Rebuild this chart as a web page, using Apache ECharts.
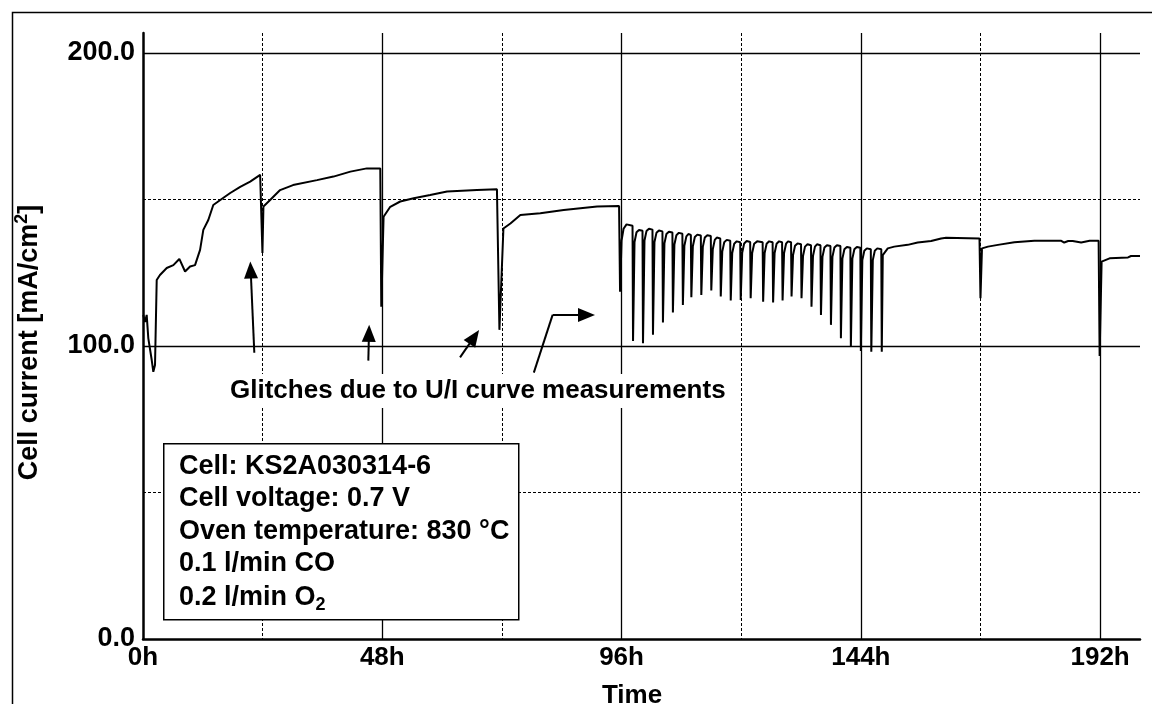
<!DOCTYPE html>
<html><head><meta charset="utf-8">
<script src="https://cdn.jsdelivr.net/npm/echarts@6/dist/echarts.min.js"></script>
<style>html,body{margin:0;padding:0;background:#fff}#c{width:1152px;height:704px}</style>
</head><body><div id="c"></div>
<script>
// ---- data (hours, mA/cm^2) ----
const xTickLabels = ['0h', '48h', '96h', '144h', '192h'];
const yTickLabels = ['0.0', '100.0', '200.0'];

const seg0to24 = [[0.06,110.6],[0.4,108.2],[0.74,110.6],[1.06,102.7],[1.4,102.7],[1.75,95.2],[2.07,91.2],[2.41,93.5],[2.75,122.5],[3.4,124.2],[4.76,126.6],[6.09,127.6],[7.29,129.7],[8.44,125.4],[9.44,127.1],[10.44,127.6],[11.1,131],[11.45,132.8],[12.1,139.6],[13.1,143],[14.1,148.1],[15.5,149.8],[17.5,152.2],[19.5,154.3],[21.5,156.1],[23.5,158.4],[23.9,158.7],[23.96,131.7]];
const seg24to48 = [[24.16,147.6],[25.5,149.8],[27.5,153.2],[30.1,154.9],[34.9,156.6],[38.2,157.8],[41.6,159.5],[44.9,160.6],[47.6,160.6],[47.8,113.4]];
const seg48to72 = [[48.26,144.1],[49.6,147.5],[51.6,149.3],[54.3,150.4],[57.6,151.5],[61,152.7],[67,153.2],[71,153.5],[71.5,105.5]];
const seg72to96 = [[72.3,140.1],[73.7,141.8],[75.7,144.7],[79.7,145.3],[84.4,146.4],[91.1,147.6],[95.5,147.8]];
const segCycling = [
 [95.7,118.5],[96.0,136],[96.4,140],[97.0,141.5],[98.2,141],
 [98.3,101.7],[98.6,135.5],[99.0,138.8],[99.5,139.6],[100.2,139.3],
 [100.3,100.9],[100.6,136],[101.0,139.2],[101.5,140],[102.2,139.7],
 [102.3,103.8],[102.6,135.5],[103.0,138.6],[103.5,139.4],[104.2,139.1],
 [104.3,108],[104.6,135],[105.0,138.2],[105.5,139],[106.2,138.7],
 [106.3,111.4],[106.6,134.6],[107.0,137.8],[107.5,138.6],[108.2,138.3],
 [108.3,114],[108.6,134.2],[109.0,137.4],[109.4,138.2],[109.9,137.9],
 [110.0,116.6],[110.3,134],[110.7,137.2],[111.2,138],[111.9,137.7],
 [112.0,117.4],[112.3,133.8],[112.7,137],[113.2,137.8],[113.9,137.5],
 [114.0,118.9],[114.3,133],[114.7,136.2],[115.1,137],[115.8,136.7],
 [115.9,116.9],[116.2,132.2],[116.6,135.4],[117.1,136.2],[117.8,135.9],
 [117.9,115.5],[118.2,131.7],[118.6,134.9],[119.1,135.7],[119.8,135.4],
 [119.9,115.7],[120.2,131.8],[120.6,135],[121.1,135.8],[121.8,135.5],
 [121.9,116.3],[122.2,131.7],[122.6,134.9],[123.2,135.7],[124.3,135.4],
 [124.4,115.1],[124.7,131.7],[125.1,134.9],[125.6,135.7],[126.3,135.4],
 [126.4,114.8],[126.7,131.7],[127.1,134.9],[127.6,135.7],[128.2,135.4],
 [128.3,115.5],[128.6,131.7],[129.0,134.9],[129.4,135.7],[130.0,135.4],
 [130.1,116.9],[130.4,131],[130.8,134.2],[131.3,135],[132.0,134.7],
 [132.1,116.3],[132.4,130.7],[132.8,133.9],[133.3,134.7],[134.0,134.4],
 [134.1,113.4],[134.4,130.7],[134.8,133.9],[135.2,134.7],[135.9,134.4],
 [136.0,110.6],[136.3,130.4],[136.7,133.6],[137.2,134.4],[137.9,134.1],
 [138.0,107.2],[138.3,130.4],[138.7,133.6],[139.2,134.4],[139.9,134.1],
 [140.0,102.6],[140.3,129.8],[140.7,133],[141.2,133.8],[141.9,133.5],
 [142.0,99.8],[142.3,129.8],[142.7,133],[143.2,133.8],[143.9,133.5],
 [144.0,98.3],[144.3,129.3],[144.7,132.5],[145.2,133.3],[146.0,133],
 [146.1,98.0],[146.4,129.3],[146.8,132.5],[147.3,133.3],[148.1,133]
];
const seg148to168 = [[148.2,98.0],[148.4,131],[149.4,133.3],[150.7,133.9],[153.4,134.5],[155.4,135.3],[158.1,135.8],[160.1,136.7],[161.1,136.9],[167.8,136.7],[168.0,116.3]];
const seg168to192 = [[168.3,133.3],[169.5,133.9],[171.5,134.5],[174.8,135.4],[178.8,135.9],[184.2,135.9],[184.8,135.3],[185.6,135.8],[186.5,135.8],[188.2,135.3],[189.9,135.9],[191.7,135.9],[191.9,96.6]];
const seg192to200 = [[192.3,128.8],[193.9,129.9],[197.6,130.2],[198.2,130.7],[200,130.7]];

// annotation arrows (data coordinates: [hours, mA/cm^2])
const arrowSegments = [
  [[22.33, 97.7], [21.6, 125.9], true],
  [[45.2, 95.0], [45.33, 104.3], true],
  [[63.6, 96.1], [66.45, 103.1], true],
  [[78.4, 90.9], [82.17, 110.6], false],
  [[82.17, 110.6], [88.97, 110.6], true]
];
const annotationText = 'Glitches due to U/I curve measurements';
const infoLines = ['Cell: KS2A030314-6', 'Cell voltage: 0.7 V', 'Oven temperature: 830 °C', '0.1 l/min CO'];
const infoLastLine = ['0.2 l/min O', '2'];

const currentData = [].concat(seg0to24, seg24to48, seg48to72, seg72to96, segCycling, seg148to168, seg168to192, seg192to200);

// ---- chart ----
const FONT = 'Liberation Sans';
const chart = echarts.init(document.getElementById('c'), null, {renderer: 'canvas'});

const solidGrid = {show: true, showMinLine: false, showMaxLine: false, lineStyle: {color: '#000', width: 1.3, type: 'solid'}};
const dashGrid = {show: true, showMinLine: false, showMaxLine: false, lineStyle: {color: '#000', width: 1, type: [3, 2]}};

const markLineData = arrowSegments.map(s => [
  {coord: s[0], symbol: 'none'},
  {coord: s[1], symbol: s[2] ? 'triangle' : 'none', symbolSize: [14, 17]}
]);

const infoGraphics = infoLines.map((t, i) => ({
  type: 'text', left: 179, top: 453 + i * 32.5, z: 101,
  style: {text: t, fill: '#000', font: 'bold 27px "' + FONT + '"', verticalAlign: 'top'}
}));
infoGraphics.push({
  type: 'text', left: 179, top: 454 + 4 * 32.5, z: 101,
  style: {
    text: '{a|' + infoLastLine[0] + '}{s|' + infoLastLine[1] + '}',
    rich: {
      a: {fontSize: 27, fontWeight: 'bold', fontFamily: FONT, lineHeight: 34, fill: '#000'},
      s: {fontSize: 18, fontWeight: 'bold', fontFamily: FONT, lineHeight: 18, verticalAlign: 'bottom', fill: '#000'}
    }
  }
});

chart.setOption({
  animation: false,
  backgroundColor: '#fff',
  grid: {left: 143, right: 12, top: 33, bottom: 65, containLabel: false, outerBoundsMode: 'none'},
  xAxis: [{
    type: 'value', min: 0, max: 200, interval: 48,
    axisLine: {show: true, onZero: false, lineStyle: {color: '#000', width: 2.5}},
    axisTick: {show: false},
    axisLabel: {margin: 6, color: '#000', fontFamily: FONT, fontWeight: 'bold', fontSize: 26,
      showMaxLabel: false, formatter: v => xTickLabels[v / 48] || ''},
    splitLine: solidGrid,
    name: 'Time', nameLocation: 'middle', nameGap: 44,
    nameTextStyle: {color: '#000', fontFamily: FONT, fontWeight: 'bold', fontSize: 26, padding: [0, 19, 0, 0]}
  }, {
    type: 'value', min: 0, max: 200, interval: 24, position: 'bottom',
    axisLine: {show: false}, axisTick: {show: false}, axisLabel: {show: false},
    splitLine: dashGrid
  }],
  yAxis: [{
    type: 'value', min: 0, max: 206.8, interval: 100,
    axisLine: {show: true, onZero: false, lineStyle: {color: '#000', width: 2.5}},
    axisTick: {show: false},
    axisLabel: {margin: 8, color: '#000', fontFamily: FONT, fontWeight: 'bold', fontSize: 27,
      showMaxLabel: false, formatter: v => yTickLabels[v / 100] || ''},
    splitLine: solidGrid,
    name: '{a|Cell current [mA/cm}{s|2}{a|]}', nameLocation: 'middle', nameGap: 96,
    nameTextStyle: {padding: [0, 13, 0, 0],
      rich: {
        a: {color: '#000', fontFamily: FONT, fontWeight: 'bold', fontSize: 27, lineHeight: 34},
        s: {color: '#000', fontFamily: FONT, fontWeight: 'bold', fontSize: 18, lineHeight: 18, verticalAlign: 'top'}
      }}
  }, {
    type: 'value', min: 0, max: 206.8, interval: 50, position: 'left',
    axisLine: {show: false}, axisTick: {show: false}, axisLabel: {show: false},
    splitLine: dashGrid
  }],
  series: [{
    type: 'line', xAxisIndex: 0, yAxisIndex: 0,
    data: currentData, showSymbol: false, symbol: 'none',
    lineStyle: {color: '#000', width: 2},
    silent: true, z: 5,
    markLine: {
      silent: true, animation: false,
      symbol: ['none', 'triangle'], symbolSize: [14, 17],
      label: {show: false},
      lineStyle: {color: '#000', width: 2, type: 'solid'},
      itemStyle: {color: '#000'},
      emphasis: {disabled: true},
      data: markLineData
    }
  }],
  graphic: [
    {type: 'rect', left: 10, top: 10, z: 100, silent: true,
      shape: {width: 1160, height: 720},
      style: {fill: 'none', stroke: '#000', lineWidth: 1.5}},
    {type: 'rect', left: 163, top: 443, z: 100, silent: true,
      shape: {width: 355, height: 176},
      style: {fill: '#fff', stroke: '#000', lineWidth: 1.5}},
    ...infoGraphics,
    {type: 'text', left: 227, top: 374, z: 101, silent: true,
      style: {text: annotationText, fill: '#000', font: 'bold 26px "' + FONT + '"',
        backgroundColor: '#fff', padding: [4, 3, 4, 3]}}
  ]
});
</script>
</body></html>
